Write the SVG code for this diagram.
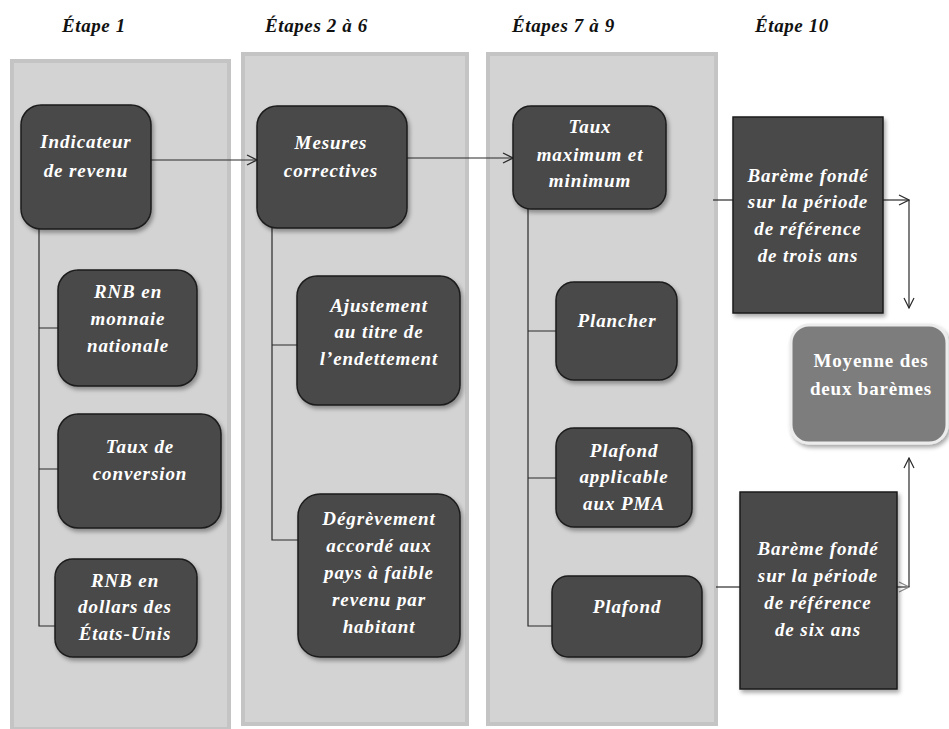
<svg xmlns="http://www.w3.org/2000/svg" width="949" height="729" viewBox="0 0 949 729">
<defs>
<style>
.panel{fill:#d3d3d3;stroke:#c4c4c4;stroke-width:4}
.node{fill:#494949;stroke:#1c1c1c;stroke-width:1.5;filter:url(#sh)}
.avg{fill:#7d7d7d;stroke:#ececec;stroke-width:3;filter:url(#sh)}
.t{font-family:"Liberation Serif","Times New Roman",serif;font-weight:bold;font-style:italic;font-size:19px;letter-spacing:0.9px;fill:#ffffff;text-anchor:middle}
.tn{font-family:"Liberation Serif","Times New Roman",serif;font-weight:bold;font-size:19px;letter-spacing:0.8px;fill:#ffffff;text-anchor:middle}
.h{font-family:"Liberation Serif","Times New Roman",serif;font-weight:bold;font-style:italic;font-size:19px;letter-spacing:0.6px;fill:#111111}
.c{fill:none;stroke:#2a2a2a;stroke-width:1.2}
</style>
<filter id="sh" x="-10%" y="-10%" width="130%" height="130%">
<feDropShadow dx="2" dy="3" stdDeviation="2" flood-color="#000" flood-opacity="0.35"/>
</filter>
<marker id="ar" markerUnits="userSpaceOnUse" viewBox="0 0 12 12" refX="11" refY="6" markerWidth="12" markerHeight="12" orient="auto">
<path d="M1,1 L11,6 L1,11" fill="none" stroke="#2a2a2a" stroke-width="1.2"/>
</marker>
<marker id="arg" markerUnits="userSpaceOnUse" viewBox="0 0 12 12" refX="11" refY="6" markerWidth="12" markerHeight="12" orient="auto">
<path d="M1,1 L11,6 L1,11" fill="none" stroke="#8a8a8a" stroke-width="1.2"/>
</marker>
</defs>
<rect width="949" height="729" fill="#ffffff"/>

<g id="headings">
<text class="h" x="62" y="32">Étape 1</text>
<text class="h" x="265" y="32">Étapes 2 à 6</text>
<text class="h" x="512" y="32">Étapes 7 à 9</text>
<text class="h" x="755" y="32">Étape 10</text>
</g>

<g id="panels">
<rect class="panel" x="12" y="61" width="217" height="668"/>
<rect class="panel" x="243" y="54" width="224" height="670"/>
<rect class="panel" x="488" y="54" width="228" height="670"/>
</g>

<g id="connectors">
<path class="c" d="M151,160 H257" marker-end="url(#ar)"/>
<path class="c" d="M407,158 H513" marker-end="url(#ar)"/>
<path class="c" d="M39,229 V626 H55 M39,328 H58 M39,469 H58"/>
<path class="c" d="M272,228 V540 H298 M272,345 H297"/>
<path class="c" d="M528,209 V626 H552 M528,331 H556 M528,478 H556"/>
<path class="c" d="M713,200 H733"/>
<path class="c" d="M883,200 H909" marker-end="url(#ar)"/>
<path class="c" d="M909,200 V308" marker-end="url(#ar)"/>
<path class="c" d="M716,587 H740"/>
<path class="c" d="M897,587 H909" marker-end="url(#arg)"/>
<path class="c" d="M909,587 V458" marker-end="url(#ar)"/>
</g>

<g id="n-indicateur">
<rect class="node" x="21" y="105" width="130" height="124" rx="20"/>
<text class="t"><tspan x="86" y="148">Indicateur</tspan><tspan x="86" y="177">de revenu</tspan></text>
</g>
<g id="n-rnb-monnaie">
<rect class="node" x="58" y="270" width="139" height="116" rx="20"/>
<text class="t"><tspan x="128" y="298">RNB en</tspan><tspan x="128" y="325">monnaie</tspan><tspan x="128" y="352">nationale</tspan></text>
</g>
<g id="n-taux-conversion">
<rect class="node" x="58" y="414" width="163" height="114" rx="20"/>
<text class="t"><tspan x="140" y="453">Taux de</tspan><tspan x="140" y="480">conversion</tspan></text>
</g>
<g id="n-rnb-dollars">
<rect class="node" x="55" y="559" width="142" height="98" rx="18"/>
<text class="t"><tspan x="125" y="587">RNB en</tspan><tspan x="125" y="613">dollars des</tspan><tspan x="125" y="640">États-Unis</tspan></text>
</g>

<g id="n-mesures">
<rect class="node" x="257" y="106" width="150" height="122" rx="20"/>
<text class="t"><tspan x="331" y="149">Mesures</tspan><tspan x="331" y="177">correctives</tspan></text>
</g>
<g id="n-ajustement">
<rect class="node" x="297" y="276" width="163" height="129" rx="20"/>
<text class="t"><tspan x="379" y="312">Ajustement</tspan><tspan x="379" y="338">au titre de</tspan><tspan x="379" y="365">l’endettement</tspan></text>
</g>
<g id="n-degrevement">
<rect class="node" x="298" y="494" width="162" height="163" rx="22"/>
<text class="t"><tspan x="379" y="525">Dégrèvement</tspan><tspan x="379" y="552">accordé aux</tspan><tspan x="379" y="579">pays à faible</tspan><tspan x="379" y="606">revenu par</tspan><tspan x="379" y="633">habitant</tspan></text>
</g>

<g id="n-taux-maxmin">
<rect class="node" x="513" y="106" width="153" height="103" rx="18"/>
<text class="t"><tspan x="590" y="133">Taux</tspan><tspan x="590" y="161">maximum et</tspan><tspan x="590" y="187">minimum</tspan></text>
</g>
<g id="n-plancher">
<rect class="node" x="556" y="282" width="121" height="98" rx="18"/>
<text class="t"><tspan x="617" y="327">Plancher</tspan></text>
</g>
<g id="n-plafond-pma">
<rect class="node" x="556" y="428" width="136" height="99" rx="18"/>
<text class="t"><tspan x="624" y="457">Plafond</tspan><tspan x="624" y="483">applicable</tspan><tspan x="624" y="510">aux PMA</tspan></text>
</g>
<g id="n-plafond">
<rect class="node" x="552" y="576" width="150" height="81" rx="16"/>
<text class="t"><tspan x="627" y="613">Plafond</tspan></text>
</g>

<g id="n-bareme-trois">
<rect class="node" x="733" y="117" width="150" height="196"/>
<text class="t"><tspan x="808" y="182">Barème fondé</tspan><tspan x="808" y="208">sur la période</tspan><tspan x="808" y="235">de référence</tspan><tspan x="808" y="262">de trois ans</tspan></text>
</g>
<g id="n-bareme-six">
<rect class="node" x="740" y="492" width="157" height="197"/>
<text class="t"><tspan x="818" y="555">Barème fondé</tspan><tspan x="818" y="582">sur la période</tspan><tspan x="818" y="609">de référence</tspan><tspan x="818" y="636">de six ans</tspan></text>
</g>
<g id="n-moyenne">
<rect class="avg" x="791" y="325" width="156" height="118" rx="18"/>
<text class="tn"><tspan x="871" y="367">Moyenne des</tspan><tspan x="871" y="395">deux barèmes</tspan></text>
</g>
</svg>
